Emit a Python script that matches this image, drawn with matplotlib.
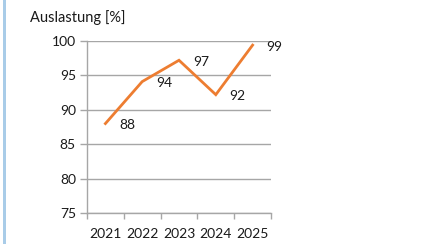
import matplotlib
matplotlib.use("Agg")
import matplotlib.pyplot as plt
from matplotlib.patches import Rectangle

years = ["2021", "2022", "2023", "2024", "2025"]
values = [88.0, 94.1, 97.2, 92.2, 99.4]
labels = ["88", "94", "97", "92", "99"]
yticks = [75, 80, 85, 90, 95, 100]

plt.rcParams['font.family'] = ['Lato', 'DejaVu Sans']

W, H = 424, 244
fig = plt.figure(figsize=(W/100, H/100), dpi=100)
ax = fig.add_axes([87/W, 1-213/H, (271-87)/W, (213-41)/H])

x = list(range(len(years)))
ax.plot(x, values, color='#ED7D31', lw=2.0, solid_joinstyle='miter', zorder=3)
for xi, v, lab in zip(x, values, labels):
    ax.annotate(lab, (xi, v), xytext=(10, -1), textcoords='offset points',
                ha='left', va='center', fontsize=10, color='#1a1a1a')

ax.set_xlim(-0.5, 4.5)
ax.set_ylim(75, 100)
ax.set_yticks(yticks)
ax.set_yticklabels([str(t) for t in yticks], fontsize=10, color='#1a1a1a')
ax.set_xticks(x)
ax.set_xticklabels(years, fontsize=10, color='#1a1a1a')
ax.set_xticks([i - 0.5 for i in range(len(years) + 1)], minor=True)
ax.tick_params(axis='x', which='major', length=0, pad=10.5)
ax.tick_params(axis='x', which='minor', length=4, color='#A6A6A6', width=1)
ax.tick_params(axis='y', length=5, color='#A6A6A6', width=1, pad=3)
ax.grid(axis='y', color='#A6A6A6', lw=1)
ax.set_axisbelow(True)
for s in ['top', 'right']:
    ax.spines[s].set_visible(False)
for s in ['left', 'bottom']:
    ax.spines[s].set_color('#A6A6A6')
    ax.spines[s].set_linewidth(1)

fig.text(30/W, 1-18/H, "Auslastung [%]", fontsize=10.5, ha='left', va='center', color='#1a1a1a')
fig.patches.append(Rectangle((3/W, 0), 3/W, 1, transform=fig.transFigure,
                             facecolor='#A9CCE8', edgecolor='none'))

fig.savefig("out.png", dpi=100)
